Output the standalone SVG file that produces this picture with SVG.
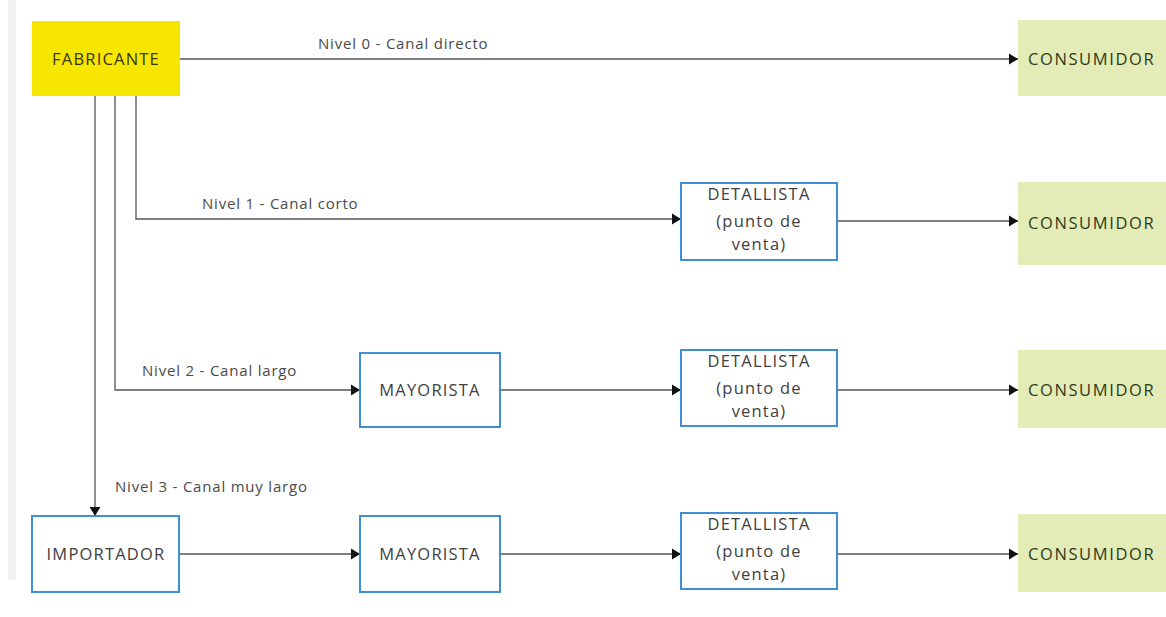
<svg xmlns="http://www.w3.org/2000/svg" width="1166" height="617" viewBox="0 0 1166 617">
  <style>
    .bg { fill: #ffffff; }
    .blue { fill: #ffffff; stroke: #3f8fd2; stroke-width: 2; }
    .green { fill: #e3ecb6; }
    .yellow { fill: #f7e600; }
    .t { font-family: "Open Sans", "DejaVu Sans", sans-serif; font-size: 16.5px; letter-spacing: 1.2px; fill: #404040; text-anchor: middle; }
    .tl { font-family: "Open Sans", "DejaVu Sans", sans-serif; font-size: 16.5px; letter-spacing: 1.6px; fill: #2e3a1a; }
    .lbl { font-family: "Open Sans", "DejaVu Sans", sans-serif; font-size: 15px; letter-spacing: 0.8px; fill: #4a4a4a; }
    .ln { fill: none; stroke: #555; stroke-width: 1.3; }
  </style>
  <defs>
    <marker id="ah" viewBox="0 0 10 12" refX="10" refY="6" markerWidth="9" markerHeight="12" markerUnits="userSpaceOnUse" orient="auto">
      <path d="M0,0 L10,6 L0,12 Z" fill="#111"/>
    </marker>
  </defs>
  <rect class="bg" x="0" y="0" width="1166" height="617"/>
  <!-- faint page edge on the left -->
  <rect x="8" y="0" width="8" height="580" fill="#f1f1f1"/>

  <g id="connectors">
    <path class="ln" d="M180,59 H1018" marker-end="url(#ah)"/>
    <path class="ln" d="M136,96 V219 H681" marker-end="url(#ah)"/>
    <path class="ln" d="M115,96 V390 H360" marker-end="url(#ah)"/>
    <path class="ln" d="M95,96 V516" marker-end="url(#ah)"/>
    <path class="ln" d="M837,221 H1018" marker-end="url(#ah)"/>
    <path class="ln" d="M500,390 H681" marker-end="url(#ah)"/>
    <path class="ln" d="M837,390 H1018" marker-end="url(#ah)"/>
    <path class="ln" d="M179,554 H360" marker-end="url(#ah)"/>
    <path class="ln" d="M500,554 H681" marker-end="url(#ah)"/>
    <path class="ln" d="M837,554 H1018" marker-end="url(#ah)"/>
    <text class="lbl" x="318" y="49">Nivel 0 - Canal directo</text>
    <text class="lbl" x="202" y="209">Nivel 1 - Canal corto</text>
    <text class="lbl" x="142" y="376">Nivel 2 - Canal largo</text>
    <text class="lbl" x="115" y="492">Nivel 3 - Canal muy largo</text>
  </g>

  <g id="fabricante">
    <rect class="yellow" x="32" y="21" width="148" height="75"/>
    <text class="t" x="106" y="65" style="fill:#3a3410">FABRICANTE</text>
  </g>

  <g id="consumidor0">
    <rect class="green" x="1018" y="20" width="150" height="76"/>
    <text class="tl" x="1028" y="65">CONSUMIDOR</text>
  </g>
  <g id="consumidor1">
    <rect class="green" x="1018" y="182" width="150" height="83"/>
    <text class="tl" x="1028" y="229">CONSUMIDOR</text>
  </g>
  <g id="consumidor2">
    <rect class="green" x="1018" y="350" width="150" height="78"/>
    <text class="tl" x="1028" y="396">CONSUMIDOR</text>
  </g>
  <g id="consumidor3">
    <rect class="green" x="1018" y="514" width="150" height="78"/>
    <text class="tl" x="1028" y="560">CONSUMIDOR</text>
  </g>

  <g id="detallista1">
    <rect class="blue" x="681" y="183" width="156" height="77"/>
    <text class="t" x="759" y="200">DETALLISTA</text>
    <text class="t" x="759" y="227">(punto de</text>
    <text class="t" x="759" y="250">venta)</text>
  </g>
  <g id="detallista2">
    <rect class="blue" x="681" y="350" width="156" height="76"/>
    <text class="t" x="759" y="367">DETALLISTA</text>
    <text class="t" x="759" y="394">(punto de</text>
    <text class="t" x="759" y="417">venta)</text>
  </g>
  <g id="detallista3">
    <rect class="blue" x="681" y="513" width="156" height="76"/>
    <text class="t" x="759" y="530">DETALLISTA</text>
    <text class="t" x="759" y="557">(punto de</text>
    <text class="t" x="759" y="580">venta)</text>
  </g>

  <g id="mayorista2">
    <rect class="blue" x="360" y="353" width="140" height="74"/>
    <text class="t" x="430" y="396">MAYORISTA</text>
  </g>
  <g id="mayorista3">
    <rect class="blue" x="360" y="516" width="140" height="76"/>
    <text class="t" x="430" y="560">MAYORISTA</text>
  </g>

  <g id="importador">
    <rect class="blue" x="32" y="516" width="147" height="76"/>
    <text class="t" x="106" y="560">IMPORTADOR</text>
  </g>
</svg>
